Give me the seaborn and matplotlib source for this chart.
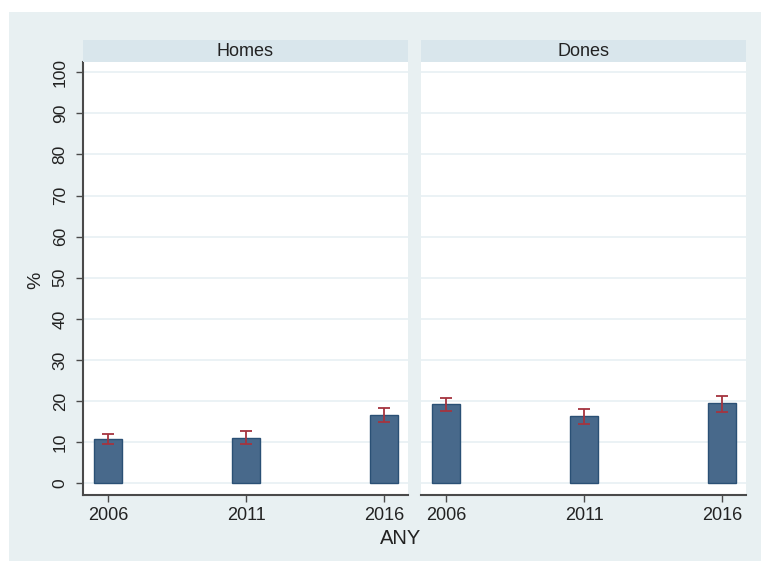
import numpy as np
import pandas as pd
import matplotlib
matplotlib.use("Agg")
import matplotlib.pyplot as plt
from matplotlib.patches import Rectangle
import seaborn as sns

# values
years = ["2006", "2011", "2016"]
groups = ["Homes", "Dones"]
homes_pct = [10.7, 11.0, 16.6]
homes_lo = [9.5, 9.5, 14.8]
homes_hi = [11.9, 12.8, 18.3]
dones_pct = [19.2, 16.3, 19.6]
dones_lo = [17.7, 14.4, 17.3]
dones_hi = [20.7, 18.0, 21.3]

df = pd.DataFrame({
    "ANY": years * 2,
    "grup": [groups[0]] * 3 + [groups[1]] * 3,
    "pct": homes_pct + dones_pct,
    "lo": homes_lo + dones_lo,
    "hi": homes_hi + dones_hi,
})

sns.set_style("white")
plt.rcParams["font.family"] = ["Liberation Sans", "DejaVu Sans"]

bg = "#e8f0f2"
strip = "#d9e6ec"
grid = "#e8f0f3"
bar_fill = "#48698b"
bar_edge = "#2a5075"
err_col = "#a5343f"
axis_col = "#4a4a4a"
txt = "#222222"

W, H = 761, 561
fig = plt.figure(figsize=(W / 100, H / 100), dpi=100)
fig.patch.set_facecolor("white")
fig.add_artist(Rectangle((9 / W, 0), 1 - 9 / W, 1 - 12 / H,
                         transform=fig.transFigure, facecolor=bg,
                         edgecolor="none", zorder=-10))

panel_x = [83, 421]
pw = 325
top, bot = 62, 495

for i, (g, px) in enumerate(zip(groups, panel_x)):
    ax = fig.add_axes([px / W, 1 - bot / H, pw / W, (bot - top) / H])
    sub = df[df["grup"] == g].reset_index(drop=True)
    sns.barplot(data=sub, x="ANY", y="pct", order=years, ax=ax,
                color=bar_fill, saturation=1, width=0.2,
                errorbar=None, edgecolor=bar_edge, linewidth=1.0, zorder=2)
    xs = np.arange(len(years))
    yerr = [sub["pct"] - sub["lo"], sub["hi"] - sub["pct"]]
    ax.errorbar(xs, sub["pct"], yerr=yerr, fmt="none", ecolor=err_col,
                elinewidth=1.3, capsize=4, capthick=1.3, zorder=3)

    ax.set_facecolor("white")
    ax.set_xlim(-25 / 138, 2 + 24 / 138)
    ax.set_ylim(-2.85, 102.5)
    ax.set_yticks(np.arange(0, 101, 10))
    ax.yaxis.grid(True, color=grid, linewidth=1.2, zorder=0)
    ax.set_axisbelow(True)
    ax.set_xlabel("")
    ax.set_ylabel("")
    for s in ["top", "right"]:
        ax.spines[s].set_visible(False)
    ax.spines["bottom"].set_color(axis_col)
    ax.spines["bottom"].set_linewidth(1.5)
    ax.tick_params(axis="x", length=5, width=1, color=axis_col,
                   labelsize=13, labelcolor=txt, pad=4, direction="out",
                   bottom=True)
    if i == 0:
        ax.spines["left"].set_color(axis_col)
        ax.spines["left"].set_linewidth(1.5)
        ax.tick_params(axis="y", length=5, width=1, color=axis_col,
                       labelsize=12.5, labelcolor=txt, pad=6,
                       direction="out", left=True)
        plt.setp(ax.get_yticklabels(), rotation=90, va="center")
    else:
        ax.spines["left"].set_visible(False)
        ax.tick_params(axis="y", left=False, labelleft=False)

    # facet strip
    fig.add_artist(Rectangle((px / W, 1 - top / H), pw / W, 22 / H,
                             transform=fig.transFigure, facecolor=strip,
                             edgecolor="none"))
    fig.text((px + pw / 2) / W, 1 - 51 / H, g, ha="center", va="center",
             fontsize=13, color=txt)

fig.text(36 / W, 1 - 280 / H, "%", rotation=90, ha="center", va="center",
         fontsize=14, color=txt)
fig.text(401 / W, 1 - 539 / H, "ANY", ha="center", va="center",
         fontsize=14.5, color=txt)

fig.savefig("out.png", dpi=100)
